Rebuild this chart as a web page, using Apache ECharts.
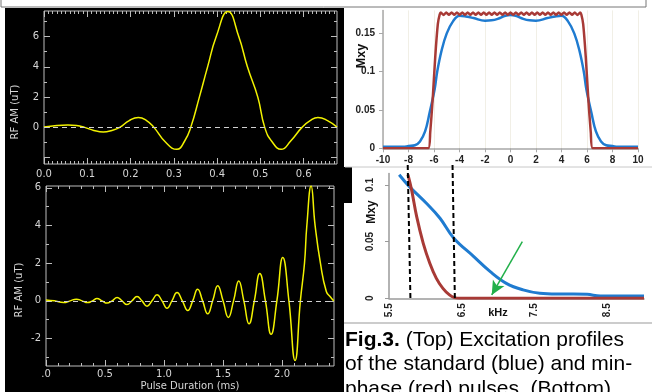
<!DOCTYPE html>
<html><head><meta charset="utf-8">
<script src="https://cdn.jsdelivr.net/npm/echarts@6/dist/echarts.min.js"></script>
<style>html,body{margin:0;padding:0;background:#fff}#c{width:652px;height:392px}</style>
</head><body><div id="c"></div>
<script>
// ---- Top-left: standard pulse RF amplitude (uT) vs time (ms)
const tlTime = [0,0.03,0.055,0.075,0.094,0.115,0.137,0.157,0.175,0.197,0.218,0.237,0.254,0.28,0.307,0.325,0.339,0.359,0.378,0.398,0.425,0.45,0.47,0.494,0.51,0.527,0.548,0.57,0.596,0.615,0.633,0.655,0.677];
const tlAmp  = [0.02,0.12,0.15,0.12,0,-0.2,-0.3,-0.2,0,0.45,0.65,0.45,0,-0.95,-1.45,-0.9,0,2,4,6,7.65,6,4,2,0,-0.95,-1.45,-0.9,0,0.45,0.65,0.45,0.02];
const tlXLabels = [0,0.1,0.2,0.3,0.4,0.5,0.6];
const tlYLabels = [0,2,4,6];

// ---- Bottom-left: min-phase pulse
const blTime = [0,0.07,0.15,0.205,0.257,0.305,0.353,0.393,0.432,0.475,0.517,0.56,0.602,0.644,0.686,0.728,0.771,0.813,0.856,0.898,0.941,0.983,1.025,1.067,1.11,1.155,1.201,1.243,1.285,1.327,1.37,1.412,1.455,1.5,1.545,1.589,1.633,1.676,1.72,1.765,1.811,1.859,1.907,1.956,2.006,2.058,2.11,2.155,2.19,2.21,2.246,2.28,2.325,2.375,2.41,2.438];
const blAmp  = [0.05,0,-0.09,0,0.09,0,-0.09,0,0.12,0,-0.12,0,0.18,0,-0.2,0,0.23,0,-0.28,0,0.32,0,-0.39,0,0.44,0,-0.51,0,0.62,0,-0.69,0,0.8,0,-0.88,0,1.06,0,-1.22,0,1.45,0,-1.77,0,2.3,0,-3.17,0,2,4,6.1,4,2,0.5,0.2,0];
const blXLabels = [0,0.5,1.0,1.5,2.0];
const blYLabels = [-2,0,2,4,6];

// ---- Top-right: excitation profiles (kHz vs Mxy)
const trFreqBlue = [-10,-8.4,-8,-7.5,-7.1,-6.7,-6.35,-5.95,-5.75,-5.4,-5.0,-4.5,-4.0,-3.5,-2.9,-2.0,-1.5,-1.0,-0.4,0,0.4,1.0,1.5,2.0,2.9,3.5,4.0,4.5,5.0,5.4,5.75,5.95,6.35,6.7,7.1,7.5,8,8.4,10];
const trBlue     = [0.002,0.002,0.003,0.004,0.009,0.022,0.046,0.077,0.1,0.128,0.15,0.166,0.173,0.172,0.17,0.1665,0.167,0.169,0.173,0.174,0.173,0.169,0.167,0.1665,0.17,0.172,0.173,0.166,0.15,0.128,0.1,0.077,0.046,0.022,0.009,0.004,0.003,0.002,0.002];
const trFreqRed = [-10,-6.45,-6.3,-6.1,-5.9,-5.7,-5.55,
 -5.46,-5.25,-5.04,-4.83,-4.62,-4.41,-4.2,-3.99,-3.78,-3.57,-3.36,-3.15,-2.94,-2.73,-2.52,-2.31,-2.1,-1.89,-1.68,-1.47,-1.26,-1.05,-0.84,-0.63,-0.42,-0.21,
 0,0.21,0.42,0.63,0.84,1.05,1.26,1.47,1.68,1.89,2.1,2.31,2.52,2.73,2.94,3.15,3.36,3.57,3.78,3.99,4.2,4.41,4.62,4.83,5.04,5.25,5.46,
 5.55,5.7,5.9,6.1,6.3,6.45,10];
const trRed = [0,0,0.02,0.065,0.12,0.162,0.175,
 0.1772,0.174,0.1772,0.1742,0.1772,0.1742,0.1772,0.1742,0.1772,0.1742,0.1772,0.1742,0.1772,0.1742,0.1772,0.1742,0.1772,0.1742,0.1772,0.1742,0.1772,0.1742,0.1772,0.1742,0.1772,0.1742,
 0.1772,0.1742,0.1772,0.1742,0.1772,0.1742,0.1772,0.1742,0.1772,0.1742,0.1772,0.1742,0.1772,0.1742,0.1772,0.1742,0.1772,0.1742,0.1772,0.1742,0.1772,0.1742,0.1772,0.1742,0.1772,0.174,0.1772,
 0.175,0.162,0.12,0.065,0.02,0,0];
const trXLabels = [-10,-8,-6,-4,-2,0,2,4,6,8,10];
const trYLabels = [0,0.05,0.1,0.15];

// ---- Bottom-right: zoomed transition band
const brFreqBlue = [5.64,5.78,6.01,6.2,6.39,6.66,6.89,7.11,7.34,7.57,7.8,8.03,8.22,8.4,8.72,9.0];
const brBlue     = [0.109,0.0985,0.084,0.0706,0.053,0.037,0.0235,0.0132,0.0074,0.0044,0.0038,0.0038,0.0035,0.002,0.002,0.002];
const brFreqRed  = [5.76,5.81,5.88,5.97,6.06,6.15,6.24,6.33,6.4,6.47,9.0];
const brRed      = [0.109,0.0956,0.072,0.0485,0.031,0.0176,0.0088,0.003,0.0006,0,0];
const brXLabels = [5.5,6.5,7.5,8.5];
const brYLabels = [0,0.05,0.1];
const brCut1 = [[5.757,0.1175],[5.794,0]];
const brCut2 = [[6.372,0.1175],[6.404,0]];
const brArrow = [[7.33,0.05],[6.91,0.003]];

const zip = (a,b)=>a.map((v,i)=>[v,b[i]]);
const range = (a,b,s)=>{const r=[];for(let v=a;v<=b+1e-9;v+=s)r.push(+v.toFixed(4));return r;};

const GRAY='#bdbdbd', LBL='#d6d6d6', YEL='#f2f200';
const lblFont = {color:LBL,fontSize:10,fontFamily:'DejaVu Sans'};

function frameX(grid,min,max,pos,vals,len,labels,fmt,margin){
  return {type:'value',gridIndex:grid,min,max,position:pos,
    axisLine:{show:false,onZero:false},splitLine:{show:false},
    axisTick:{show:true,inside:true,length:len,customValues:vals,lineStyle:{color:GRAY}},
    axisLabel:labels?Object.assign({show:true,customValues:labels,formatter:fmt,margin:margin||6},lblFont):{show:false}};
}
function frameY(grid,min,max,pos,vals,len,labels){
  return {type:'value',gridIndex:grid,min,max,position:pos,
    axisLine:{show:false,onZero:false},splitLine:{show:false},
    axisTick:{show:true,inside:true,length:len,customValues:vals,lineStyle:{color:GRAY}},
    axisLabel:labels?Object.assign({show:true,customValues:labels,margin:5},lblFont):{show:false}};
}

const TLX=[0,0.677], TLY=[-2.42,7.69], BLX=[0,2.44], BLY=[-3.46,6.1];

const xAxis = [
  frameX(0,TLX[0],TLX[1],'bottom',range(0,0.6,0.1),6,tlXLabels,v=>v.toFixed(1),5),
  frameX(0,TLX[0],TLX[1],'bottom',range(0,0.67,0.01),3,null),
  frameX(0,TLX[0],TLX[1],'top',range(0,0.6,0.1),6,null),
  frameX(0,TLX[0],TLX[1],'top',range(0,0.67,0.01),3,null),
  frameX(1,BLX[0],BLX[1],'bottom',range(0,2.0,0.5),6,blXLabels,v=>v===0?'.0':v.toFixed(1),3),
  frameX(1,BLX[0],BLX[1],'bottom',range(0,2.4,0.1),3,null),
  frameX(1,BLX[0],BLX[1],'top',range(0,2.0,0.5),6,null),
  frameX(1,BLX[0],BLX[1],'top',range(0,2.4,0.1),3,null),
  {type:'value',gridIndex:2,min:-10,max:10,interval:2,
    axisLine:{show:true,onZero:false,lineStyle:{color:'#a8a8a8',width:1.5}},
    axisTick:{show:true,length:4,lineStyle:{color:'#a8a8a8'}},
    splitLine:{show:true,lineStyle:{color:'#f1efe6',width:1}},
    axisLabel:{customValues:trXLabels,color:'#222',fontSize:10,fontWeight:'bold',fontFamily:'Liberation Sans',margin:7}},
  {type:'value',gridIndex:3,min:5.5,max:9.0,
    axisLine:{show:true,onZero:false,lineStyle:{color:'#9a9a9a',width:1.5}},
    axisTick:{show:false},splitLine:{show:false},
    axisLabel:{customValues:brXLabels,formatter:v=>v.toFixed(1),rotate:90,color:'#222',fontSize:10,fontWeight:'bold',fontFamily:'Liberation Sans',margin:5}}
];
const yAxis = [
  frameY(0,TLY[0],TLY[1],'left',[-2,0,2,4,6],6,tlYLabels),
  frameY(0,TLY[0],TLY[1],'left',range(-2,7,1),3,null),
  frameY(0,TLY[0],TLY[1],'right',[-2,0,2,4,6],6,null),
  frameY(0,TLY[0],TLY[1],'right',range(-2,7,1),3,null),
  frameY(1,BLY[0],BLY[1],'left',[-2,0,2,4,6],6,blYLabels),
  frameY(1,BLY[0],BLY[1],'left',range(-3,6,1),3,null),
  frameY(1,BLY[0],BLY[1],'right',[-2,0,2,4,6],6,null),
  frameY(1,BLY[0],BLY[1],'right',range(-3,6,1),3,null),
  {type:'value',gridIndex:2,min:0,max:0.18,
    axisLine:{show:true,onZero:false,lineStyle:{color:'#a8a8a8',width:1.5}},
    axisTick:{show:true,length:4,customValues:trYLabels,lineStyle:{color:'#a8a8a8'}},
    splitLine:{show:false},
    axisLabel:{customValues:trYLabels,color:'#222',fontSize:10,fontWeight:'bold',fontFamily:'Liberation Sans',margin:8}},
  {type:'value',gridIndex:3,min:0,max:0.11,
    axisLine:{show:true,onZero:false,lineStyle:{color:'#9a9a9a',width:1.5}},
    axisTick:{show:true,length:4,customValues:brYLabels,lineStyle:{color:'#9a9a9a'}},
    splitLine:{show:false},
    axisLabel:{customValues:brYLabels,rotate:90,color:'#222',fontSize:10,fontWeight:'bold',fontFamily:'Liberation Sans',margin:14}}
];

const zeroLine = {silent:true,symbol:'none',label:{show:false},lineStyle:{type:[5,4],color:'#d0d0d0',width:1},data:[{yAxis:0}]};
const capFont = 21;

const option = {
  animation:false,
  backgroundColor:'#fff',
  grid:[
    {left:44,top:11,width:293,height:153,show:true,borderColor:GRAY,borderWidth:1,backgroundColor:'transparent'},
    {left:46,top:186,width:288,height:180,show:true,borderColor:GRAY,borderWidth:1,backgroundColor:'transparent'},
    {left:383,top:10.4,width:255,height:137.9},
    {left:389,top:173.6,width:255,height:124.7}
  ],
  xAxis, yAxis,
  graphic:[
    {type:'rect',z:-10,shape:{x:5,y:8,width:339,height:384},style:{fill:'#000'}},
    {type:'rect',z:-10,shape:{x:340,y:167,width:12,height:36},style:{fill:'#000'}},
    {type:'polyline',z:-5,shape:{points:[[1,0],[1,7],[646,7],[646,0]]},style:{stroke:'#777',lineWidth:1,fill:null}},
    {type:'line',z:-5,shape:{x1:345,y1:167,x2:652,y2:167},style:{stroke:'#c8c8c8',lineWidth:1}},
    {type:'line',z:-5,shape:{x1:344,y1:323,x2:652,y2:323},style:{stroke:'#999',lineWidth:1}},
    {type:'text',x:15,y:112,rotation:Math.PI/2,style:{text:'RF AM (uT)',fill:LBL,fontSize:10,fontFamily:'DejaVu Sans',align:'center',verticalAlign:'middle'}},
    {type:'text',x:19,y:290,rotation:Math.PI/2,style:{text:'RF AM (uT)',fill:LBL,fontSize:10,fontFamily:'DejaVu Sans',align:'center',verticalAlign:'middle'}},
    {type:'text',x:190,y:386,style:{text:'Pulse Duration (ms)',fill:LBL,fontSize:10,fontFamily:'DejaVu Sans',align:'center',verticalAlign:'middle'}},
    {type:'text',x:362,y:56,rotation:Math.PI/2,style:{text:'Mxy',fill:'#111',fontSize:12.5,fontWeight:'bold',fontFamily:'Liberation Sans',align:'center',verticalAlign:'middle'}},
    {type:'text',x:372,y:212,rotation:Math.PI/2,style:{text:'Mxy',fill:'#111',fontSize:12,fontWeight:'bold',fontFamily:'Liberation Sans',align:'center',verticalAlign:'middle'}},
    {type:'text',x:498,y:313,style:{text:'kHz',fill:'#111',fontSize:11,fontWeight:'bold',fontFamily:'Liberation Sans',align:'center',verticalAlign:'middle'}},
    {type:'text',x:345,y:340,style:{text:'{b|Fig.3.} (Top) Excitation profiles',fill:'#000',fontSize:capFont,fontFamily:'Liberation Sans',verticalAlign:'middle',rich:{b:{fontWeight:'bold',fontSize:capFont,fontFamily:'Liberation Sans'}}}},
    {type:'text',x:345,y:364,style:{text:'of the standard (blue) and min-',fill:'#000',fontSize:capFont,fontFamily:'Liberation Sans',verticalAlign:'middle'}},
    {type:'text',x:345,y:389,style:{text:'phase (red) pulses. (Bottom)',fill:'#000',fontSize:capFont,fontFamily:'Liberation Sans',verticalAlign:'middle'}}
  ],
  series:[
    {type:'line',xAxisIndex:0,yAxisIndex:0,data:zip(tlTime,tlAmp),smooth:0.5,showSymbol:false,lineStyle:{color:YEL,width:1.5},markLine:zeroLine},
    {type:'line',xAxisIndex:4,yAxisIndex:4,data:zip(blTime,blAmp),smooth:0.5,showSymbol:false,lineStyle:{color:YEL,width:1.5},markLine:zeroLine},
    {type:'line',xAxisIndex:8,yAxisIndex:8,data:zip(trFreqBlue,trBlue),smooth:0.4,showSymbol:false,lineStyle:{color:'#1f7bd0',width:2.5}},
    {type:'line',xAxisIndex:8,yAxisIndex:8,data:zip(trFreqRed,trRed),smooth:0.2,showSymbol:false,lineStyle:{color:'#a83a36',width:2.5}},
    {type:'line',xAxisIndex:9,yAxisIndex:9,data:zip(brFreqBlue,brBlue),smooth:0.4,showSymbol:false,lineStyle:{color:'#1f7bd0',width:3},
      markLine:{silent:true,symbol:['none','arrow'],symbolSize:[10,14],label:{show:false},lineStyle:{color:'#22b04a',width:1.5,type:'solid'},
        data:[[{coord:brArrow[0]},{coord:brArrow[1]}]]}},
    {type:'line',xAxisIndex:9,yAxisIndex:9,data:zip(brFreqRed,brRed),smooth:0.4,showSymbol:false,lineStyle:{color:'#a83a36',width:3}},
    {type:'line',xAxisIndex:9,yAxisIndex:9,data:brCut1,clip:false,showSymbol:false,lineStyle:{color:'#000',width:2,type:[5,3]}},
    {type:'line',xAxisIndex:9,yAxisIndex:9,data:brCut2,clip:false,showSymbol:false,lineStyle:{color:'#000',width:2,type:[5,3]}}
  ]
};
const chart = echarts.init(document.getElementById('c'),null,{renderer:'canvas'});
chart.setOption(option);
</script></body></html>
